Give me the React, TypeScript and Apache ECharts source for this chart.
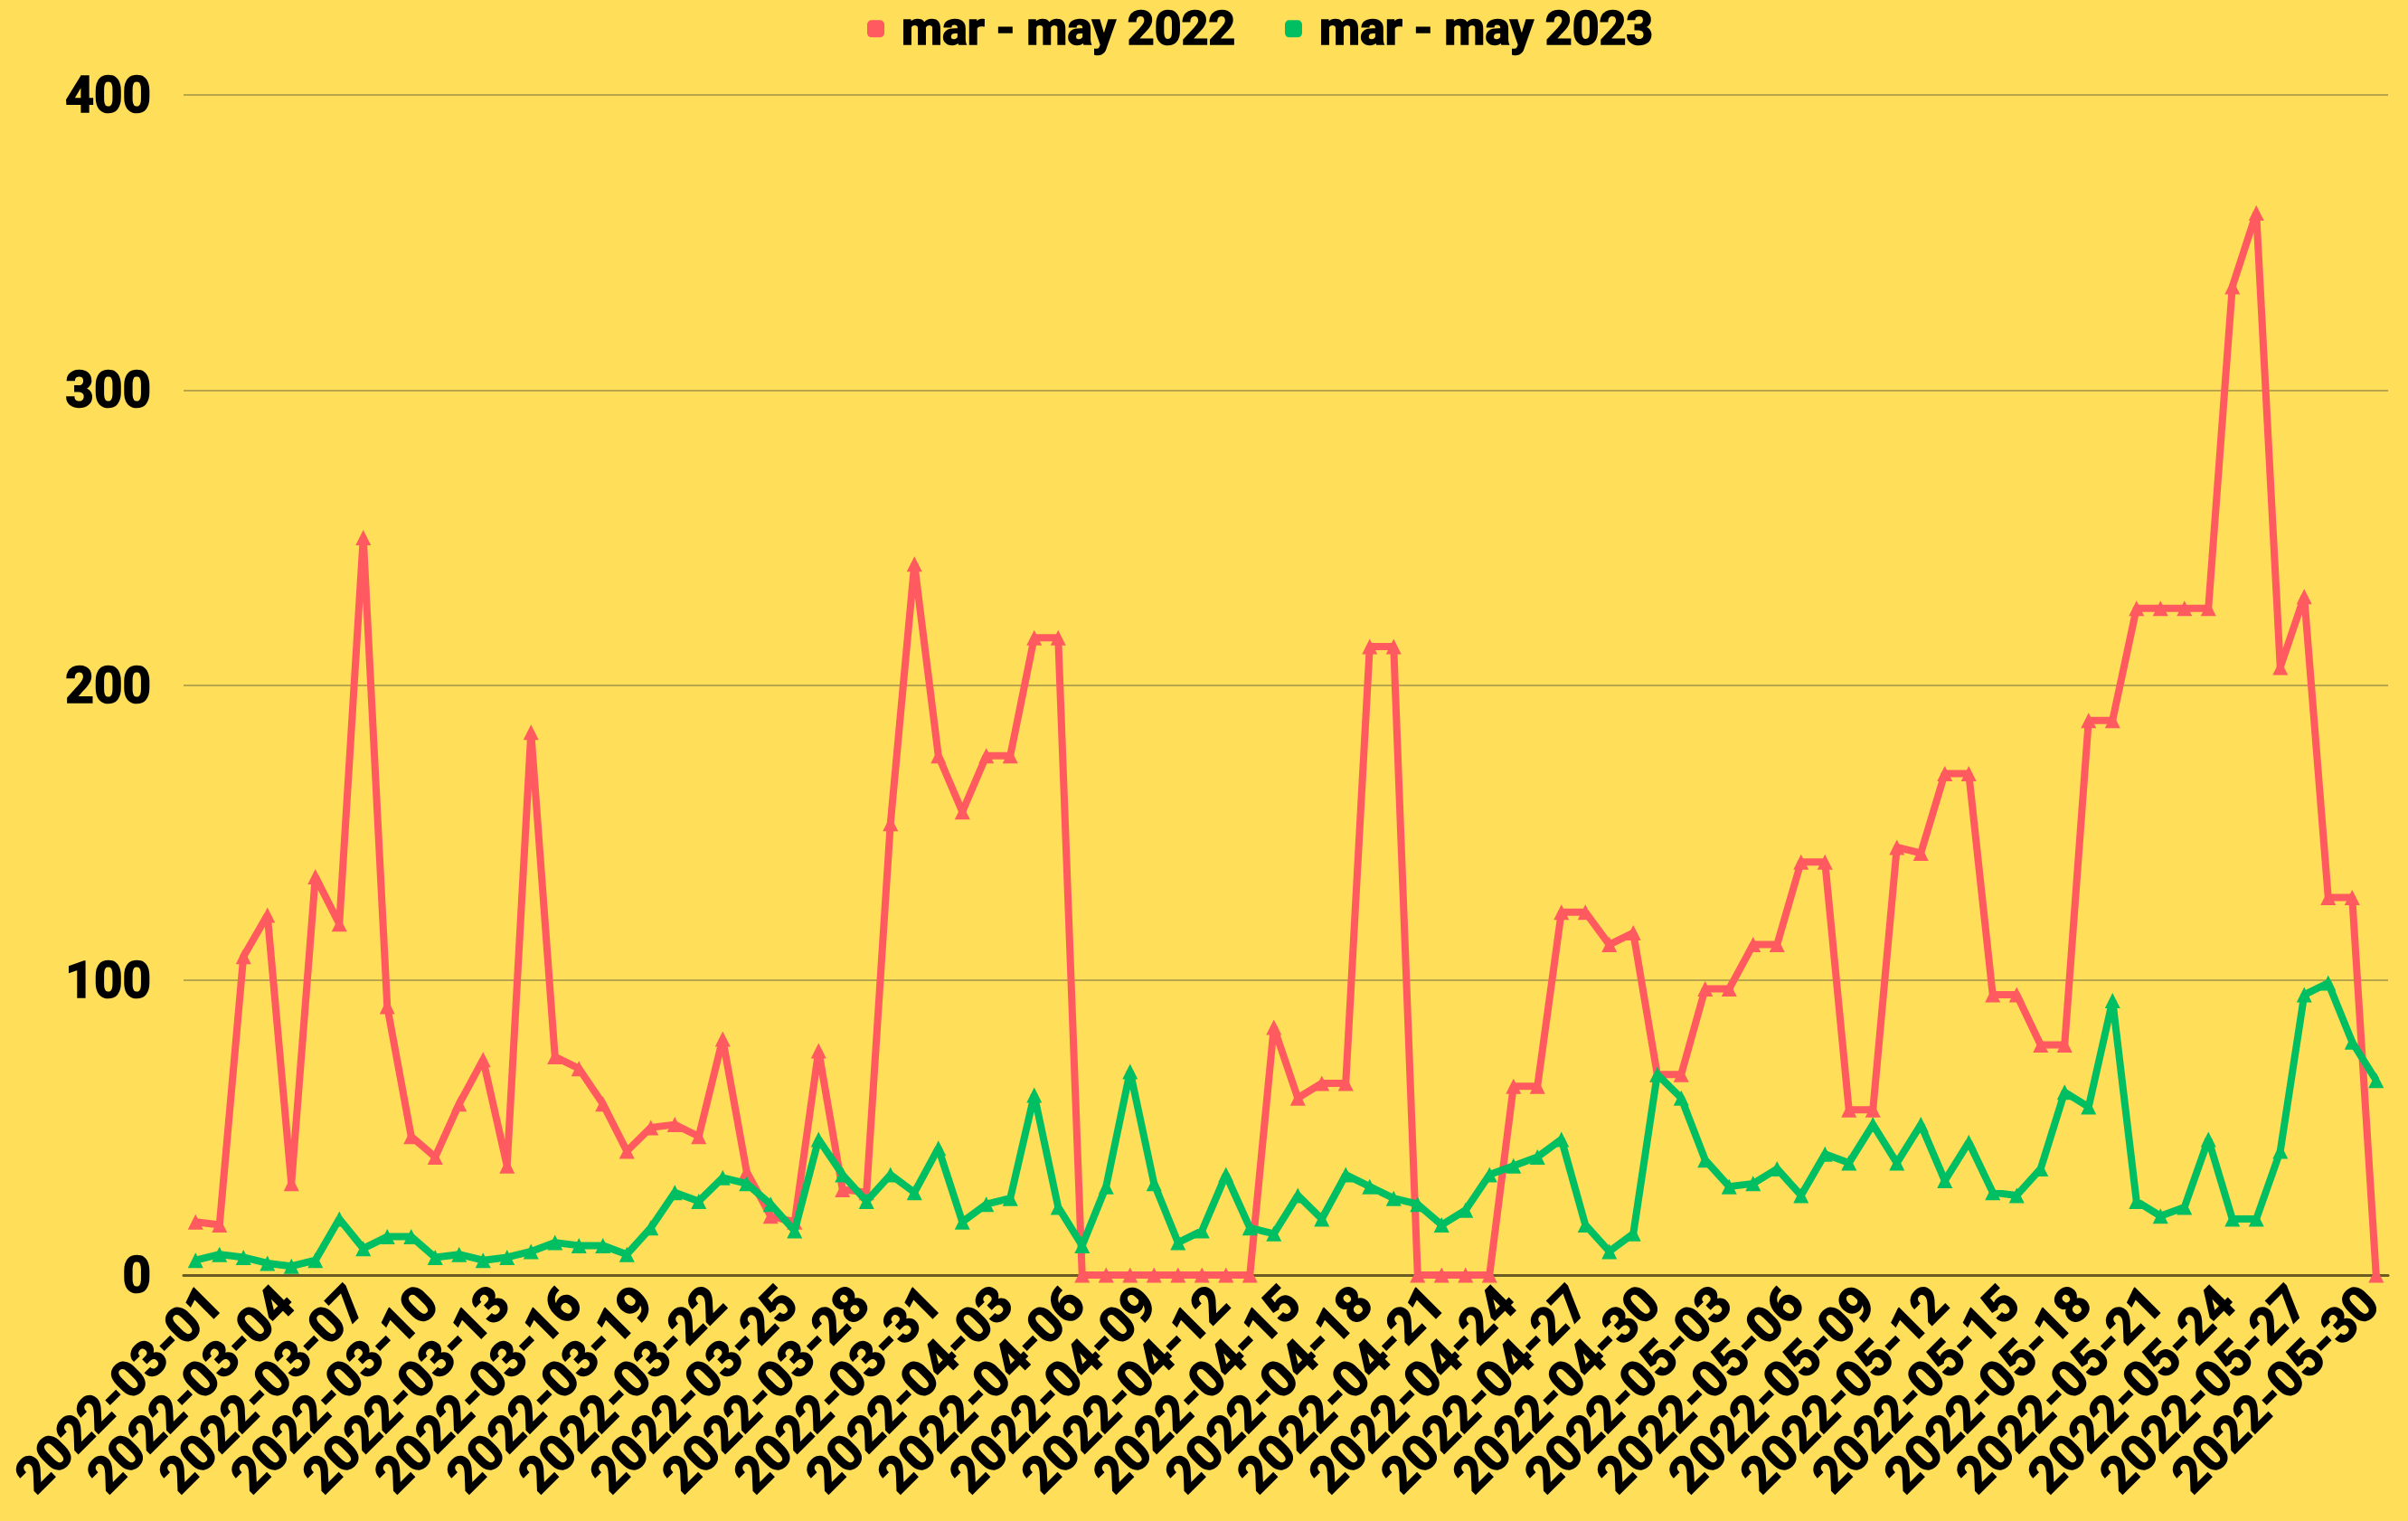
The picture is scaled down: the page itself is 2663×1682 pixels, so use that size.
import React, { useEffect, useRef } from "react";
import * as echarts from "echarts";

const categories: string[] = [
  "2022-03-01","2022-03-02","2022-03-03","2022-03-04","2022-03-05","2022-03-06","2022-03-07","2022-03-08","2022-03-09","2022-03-10",
  "2022-03-11","2022-03-12","2022-03-13","2022-03-14","2022-03-15","2022-03-16","2022-03-17","2022-03-18","2022-03-19","2022-03-20",
  "2022-03-21","2022-03-22","2022-03-23","2022-03-24","2022-03-25","2022-03-26","2022-03-27","2022-03-28","2022-03-29","2022-03-30",
  "2022-03-31","2022-04-01","2022-04-02","2022-04-03","2022-04-04","2022-04-05","2022-04-06","2022-04-07","2022-04-08","2022-04-09",
  "2022-04-10","2022-04-11","2022-04-12","2022-04-13","2022-04-14","2022-04-15","2022-04-16","2022-04-17","2022-04-18","2022-04-19",
  "2022-04-20","2022-04-21","2022-04-22","2022-04-23","2022-04-24","2022-04-25","2022-04-26","2022-04-27","2022-04-28","2022-04-29",
  "2022-04-30","2022-05-01","2022-05-02","2022-05-03","2022-05-04","2022-05-05","2022-05-06","2022-05-07","2022-05-08","2022-05-09",
  "2022-05-10","2022-05-11","2022-05-12","2022-05-13","2022-05-14","2022-05-15","2022-05-16","2022-05-17","2022-05-18","2022-05-19",
  "2022-05-20","2022-05-21","2022-05-22","2022-05-23","2022-05-24","2022-05-25","2022-05-26","2022-05-27","2022-05-28","2022-05-29",
  "2022-05-30","2022-05-31"
];

const series2022: number[] = [
  18, 17, 108, 122, 31, 135, 119, 250, 91, 47,
  40, 58, 73, 37, 184, 74, 70, 58, 42, 50,
  51, 47, 80, 35, 20, 18, 76, 29, 28, 153,
  241, 176, 157, 176, 176, 216, 216, 0, 0, 0,
  0, 0, 0, 0, 0, 84, 60, 65, 65, 213,
  213, 0, 0, 0, 0, 64, 64, 123, 123, 112,
  116, 68, 68, 97, 97, 112, 112, 140, 140, 56,
  56, 145, 143, 170, 170, 95, 95, 78, 78, 188,
  188, 226, 226, 226, 226, 335, 360, 206, 230, 128,
  128, 0
];

const series2023: number[] = [
  5, 7, 6, 4, 3, 5, 19, 9, 13, 13,
  6, 7, 5, 6, 8, 11, 10, 10, 7, 16,
  28, 25, 33, 31, 24, 15, 46, 34, 25, 34,
  28, 43, 18, 24, 26, 61, 23, 10, 30, 69,
  31, 11, 15, 34, 16, 14, 27, 19, 34, 30,
  26, 24, 17, 22, 34, 37, 40, 46, 17, 8,
  14, 68, 60, 39, 30, 31, 36, 27, 41, 38,
  51, 38, 51, 32, 45, 28, 27, 36, 62, 57,
  93, 25, 20, 23, 46, 19, 19, 42, 95, 99,
  79, 66
];

const seriesNames: string[] = ["mar - may 2022", "mar - may 2023"];
const yTicks = { min: 0, max: 400, interval: 100 };
const labelEvery = 3;

const RED = "#FF5A5F";
const GREEN = "#00BF63";
const BG = "#FFDE59";
const FONT = "Roboto, 'Noto Sans', sans-serif";

const heavyText = {
  color: "#000",
  fontWeight: "bold",
  fontFamily: FONT,
  textBorderColor: "#000",
  textBorderWidth: 1.6,
};

export default function App() {
  const ref = useRef<HTMLDivElement>(null);

  useEffect(() => {
    document.body.style.margin = "0";
    if (!ref.current) return;
    const chart = echarts.init(ref.current, undefined, { renderer: "svg" });
    chart.setOption({
      animation: false,
      backgroundColor: BG,
      textStyle: { fontFamily: FONT },
      legend: {
        data: [
          { name: seriesNames[0], itemStyle: { color: RED } },
          { name: seriesNames[1], itemStyle: { color: GREEN } },
        ],
        left: 954,
        top: 0,
        icon: "roundRect",
        itemWidth: 19,
        itemHeight: 19,
        itemGap: 54,
        textStyle: {
          ...heavyText,
          fontSize: 52,
          padding: [0, 0, 0, 14],
        },
      },
      grid: { left: 203, right: 22, top: 105, bottom: 272, containLabel: false },
      xAxis: {
        type: "category",
        data: categories,
        boundaryGap: true,
        axisTick: { show: false },
        axisLine: { show: true, lineStyle: { color: "#6B5A22", width: 3 } },
        axisLabel: {
          ...heavyText,
          interval: 0,
          formatter: (value: string, index: number) =>
            index % labelEvery === 0 ? value : "",
          hideOverlap: false,
          rotate: 45,
          verticalAlign: "top",
          margin: 2,
          fontSize: 55,
        },
        splitLine: { show: false },
      },
      yAxis: {
        type: "value",
        min: yTicks.min,
        max: yTicks.max,
        interval: yTicks.interval,
        axisLine: { show: false },
        axisTick: { show: false },
        axisLabel: {
          ...heavyText,
          margin: 36,
          fontSize: 55,
        },
        splitLine: { lineStyle: { color: "#B9A54B", width: 2 } },
      },
      series: [
        {
          name: seriesNames[0],
          type: "line",
          data: series2022,
          symbol: "triangle",
          symbolSize: 17,
          showSymbol: true,
          lineStyle: { color: RED, width: 8 },
          itemStyle: { color: RED },
          z: 2,
        },
        {
          name: seriesNames[1],
          type: "line",
          data: series2023,
          symbol: "triangle",
          symbolSize: 17,
          showSymbol: true,
          lineStyle: { color: GREEN, width: 8 },
          itemStyle: { color: GREEN },
          z: 3,
        },
      ],
    });
    return () => chart.dispose();
  }, []);

  return <div ref={ref} style={{ width: 2663, height: 1682, background: BG }} />;
}
